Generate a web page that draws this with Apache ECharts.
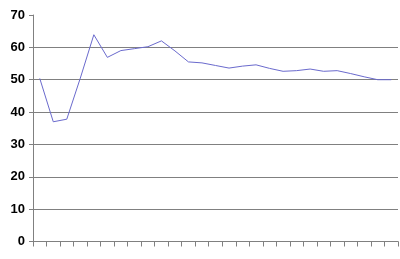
<!DOCTYPE html>
<html>
<head>
<meta charset="utf-8">
<script src="https://cdn.jsdelivr.net/npm/echarts@6/dist/echarts.min.js"></script>
<style>html,body{margin:0;padding:0;background:#fff}#c{width:400px;height:259px}</style>
</head>
<body>
<div id="c"></div>
<script>
var categories = ['1','2','3','4','5','6','7','8','9','10','11','12','13','14','15','16','17','18','19','20','21','22','23','24','25','26','27'];
var values = [50.4, 37.0, 37.8, 50.5, 63.9, 56.9, 59.0, 59.6, 60.2, 62.0, 58.9, 55.5, 55.2, 54.4, 53.6, 54.2, 54.6, 53.5, 52.6, 52.8, 53.3, 52.6, 52.8, 51.9, 50.9, 50.0, 50.0];
var yTicks = [0, 10, 20, 30, 40, 50, 60, 70];

var chart = echarts.init(document.getElementById('c'), null, {renderer: 'canvas'});
chart.setOption({
  animation: false,
  backgroundColor: '#fff',
  grid: {left: 33, right: 2, top: 15, bottom: 17.5, containLabel: false},
  xAxis: {
    type: 'category',
    data: categories,
    boundaryGap: true,
    axisLine: {lineStyle: {color: '#808080', width: 1}},
    axisTick: {show: true, interval: 0, length: 5, lineStyle: {color: '#808080'}},
    axisLabel: {show: false, interval: 0},
    splitLine: {show: false}
  },
  yAxis: {
    type: 'value',
    min: yTicks[0],
    max: yTicks[yTicks.length - 1],
    interval: 10,
    axisLine: {show: true, lineStyle: {color: '#808080', width: 1}},
    axisTick: {show: true, length: 4, lineStyle: {color: '#808080'}},
    axisLabel: {color: '#000', fontFamily: 'Liberation Sans, Arial', fontWeight: 'bold', fontSize: 13, margin: 8},
    splitLine: {show: true, lineStyle: {color: ['#808080','#808080','#808080','#808080','#808080','#808080','#808080','rgba(0,0,0,0)'], width: 1}}
  },
  series: [{
    type: 'line',
    data: values,
    symbol: 'none',
    lineStyle: {color: '#6a6acd', width: 1},
    itemStyle: {color: '#6a6acd'}
  }]
});
</script>
</body>
</html>
